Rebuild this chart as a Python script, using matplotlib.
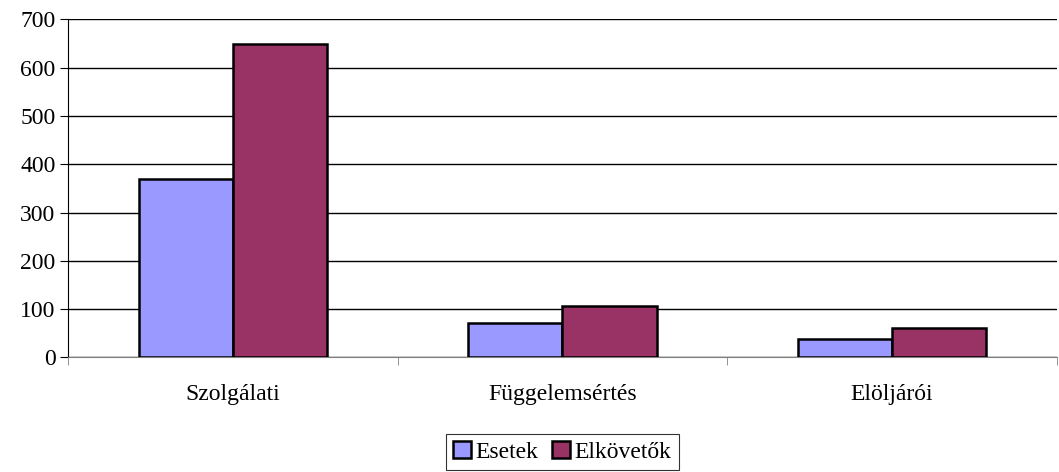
import matplotlib.pyplot as plt
import numpy as np

plt.rcParams['font.family'] = ['Liberation Serif', 'DejaVu Serif']

categories = ['Szolgálati', 'Függelemsértés', 'Elöljárói']
esetek = [370, 72, 39]
elkovetok = [648, 107, 61]
series_names = ['Esetek', 'Elkövetők']

fig = plt.figure(figsize=(10.59, 4.72), dpi=100)
ax = fig.add_axes([0.0642, 0.2426, 0.9338, 0.7164])

x = np.arange(len(categories))
w = 1 / 3.5
ax.bar(x - w / 2, esetek, w, color='#9999FF', edgecolor='black', linewidth=1.8,
       label=series_names[0], zorder=3)
ax.bar(x + w / 2, elkovetok, w, color='#993366', edgecolor='black', linewidth=1.8,
       label=series_names[1], zorder=3)

ax.set_xlim(-0.5, len(categories) - 0.5)
ax.set_ylim(0, 700)
ax.set_yticks(range(0, 701, 100))
ax.yaxis.grid(True, color='black', linewidth=1, zorder=0)
ax.set_xticks(x)
ax.set_xticklabels(categories, fontsize=17)
ax.tick_params(axis='x', length=0, pad=19)
ax.set_xticks(np.arange(-0.5, len(categories), 1), minor=True)
ax.tick_params(axis='x', which='minor', length=6, color='#808080', direction='out')
ax.tick_params(axis='y', labelsize=17, length=6, color='black', pad=3)

for s in ['top', 'right']:
    ax.spines[s].set_visible(False)
ax.spines['left'].set_color('black')
ax.spines['bottom'].set_color('#808080')

# legend sits centred under the plot area, not the figure
leg = fig.legend(loc='lower center', bbox_to_anchor=(0.531, -0.005), ncol=2, fontsize=17,
                 frameon=True, fancybox=False, edgecolor='black', handlelength=0.75,
                 handleheight=0.75, handletextpad=0.2, columnspacing=0.6,
                 borderpad=0.3, borderaxespad=0.2)
leg.get_frame().set_linewidth(0.8)
for h in leg.legend_handles:
    h.set_linewidth(1.8)

fig.savefig('out.png', dpi=100)
